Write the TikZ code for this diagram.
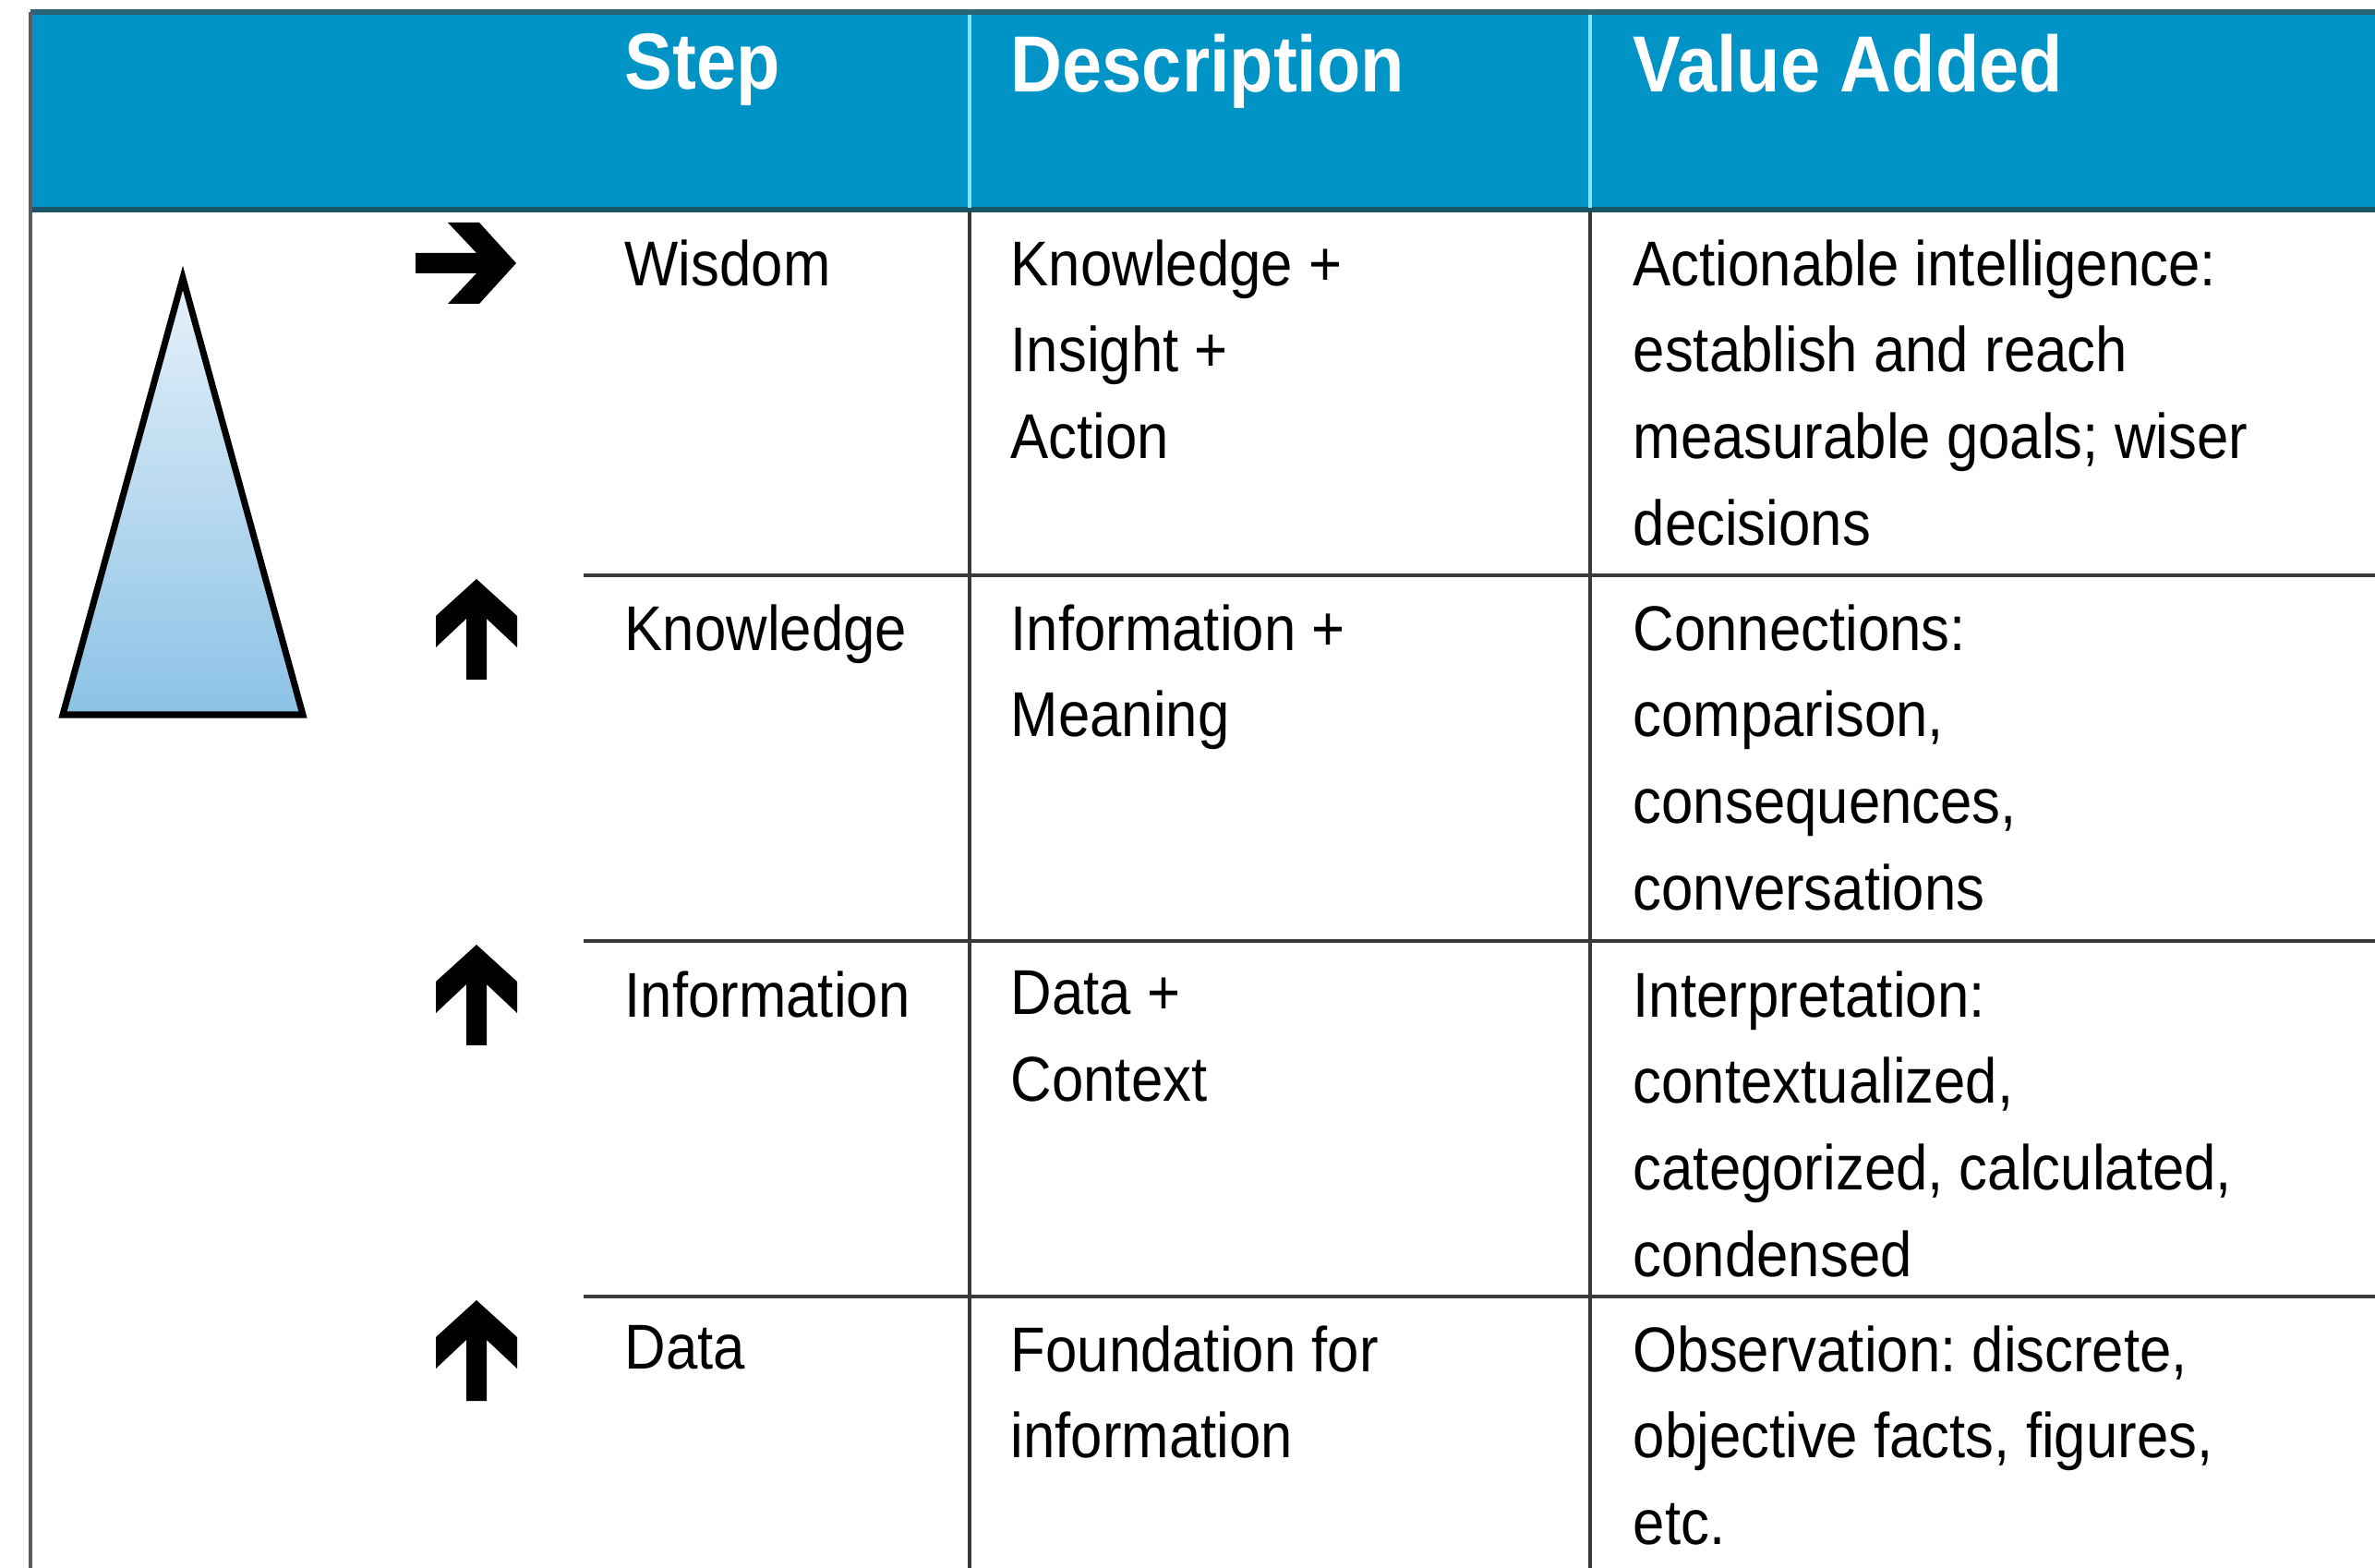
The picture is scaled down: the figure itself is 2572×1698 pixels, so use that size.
\documentclass[tikz,border=0pt]{standalone}
\usepackage{fontspec}
\setmainfont[FakeStretch=0.9]{Liberation Sans}
\frenchspacing
\definecolor{hdrblue}{HTML}{0093C6}
\definecolor{hdrtop}{HTML}{2A6478}
\definecolor{hdrbot}{HTML}{1C5568}
\definecolor{hdrdiv}{HTML}{7FE6FF}
\definecolor{bodyline}{HTML}{3A3A3A}
\definecolor{leftline}{HTML}{5A5A66}
\definecolor{triTop}{HTML}{E6F1FA}
\definecolor{triBot}{HTML}{8CC2E6}
\begin{document}
\begin{tikzpicture}[x=0.01cm,y=-0.01cm,
  hdr/.style={anchor=north west, inner sep=0pt, text=white,
    font=\fontsize{24.5}{28}\selectfont\bfseries},
  cell/.style={anchor=north west, inner sep=0pt, align=left,
    font=\fontsize{19.5}{26.6}\selectfont\frenchspacing},
  rowrule/.style={draw=bodyline, line width=1.4pt},
  colrule/.style={draw=bodyline, line width=0.9pt},
  bigarrow/.pic={\fill[black] (0,0) -- (-44,40) -- (-44,74) -- (-11,43) -- (-11,109)
     -- (11,109) -- (11,43) -- (44,74) -- (44,40) -- cycle;}
]
\useasboundingbox (0,0) rectangle (2572,1698);
\fill[white] (0,0) rectangle (2572,1698);

% header band
\fill[hdrblue] (33,13) rectangle (2572,227);
\draw[hdrtop, line width=1.6pt] (33,13) -- (2572,13);
\draw[hdrbot, line width=1.6pt] (33,227) -- (2572,227);
\draw[hdrdiv, line width=1pt] (1050,16) -- (1050,225);
\draw[hdrdiv, line width=1pt] (1722,16) -- (1722,225);

% body rules
\draw[colrule] (1050,229) -- (1050,1698);
\draw[colrule] (1722,229) -- (1722,1698);
\draw[leftline, line width=1pt] (33,13) -- (33,1698);
\draw[rowrule] (632,623) -- (2572,623);
\draw[rowrule] (632,1019) -- (2572,1019);
\draw[rowrule] (632,1404) -- (2572,1404);

% header texts
\node[hdr] (hstep) at (676,36) {Step};
\node[hdr] (hdesc) at (1094,36) {Description};
\node[hdr] (hval) at (1768,36) {Value Added};

% triangle
\draw[line width=2pt, line join=miter, top color=triTop, bottom color=triBot]
  (198,301) -- (328,774) -- (68,774) -- cycle;

% arrows
\pic[rotate=-90] at (559,285) {bigarrow};
\pic at (516,627) {bigarrow};
\pic at (516,1023) {bigarrow};
\pic at (516,1408) {bigarrow};

% row 1
\node[cell] (s1) at (676,259) {Wisdom};
\node[cell] (d1) at (1094,259) {Knowledge +\\Insight +\\Action};
\node[cell] (v1) at (1768,259) {Actionable intelligence:\\establish and reach\\measurable goals; wiser\\decisions};
% row 2
\node[cell] (s2) at (676,654) {Knowledge};
\node[cell] (d2) at (1094,654) {Information +\\Meaning};
\node[cell] (v2) at (1768,654) {Connections:\\comparison,\\consequences,\\conversations};
% row 3
\node[cell] (s3) at (676,1051) {Information};
\node[cell] (d3) at (1094,1051) {Data +\\Context};
\node[cell] (v3) at (1768,1051) {Interpretation:\\contextualized,\\categorized, calculated,\\condensed};
% row 4
\node[cell] (s4) at (676,1435) {Data};
\node[cell] (d4) at (1094,1435) {Foundation for\\information};
\node[cell] (v4) at (1768,1435) {Observation: discrete,\\objective facts, figures,\\etc.};
\end{tikzpicture}
\end{document}
